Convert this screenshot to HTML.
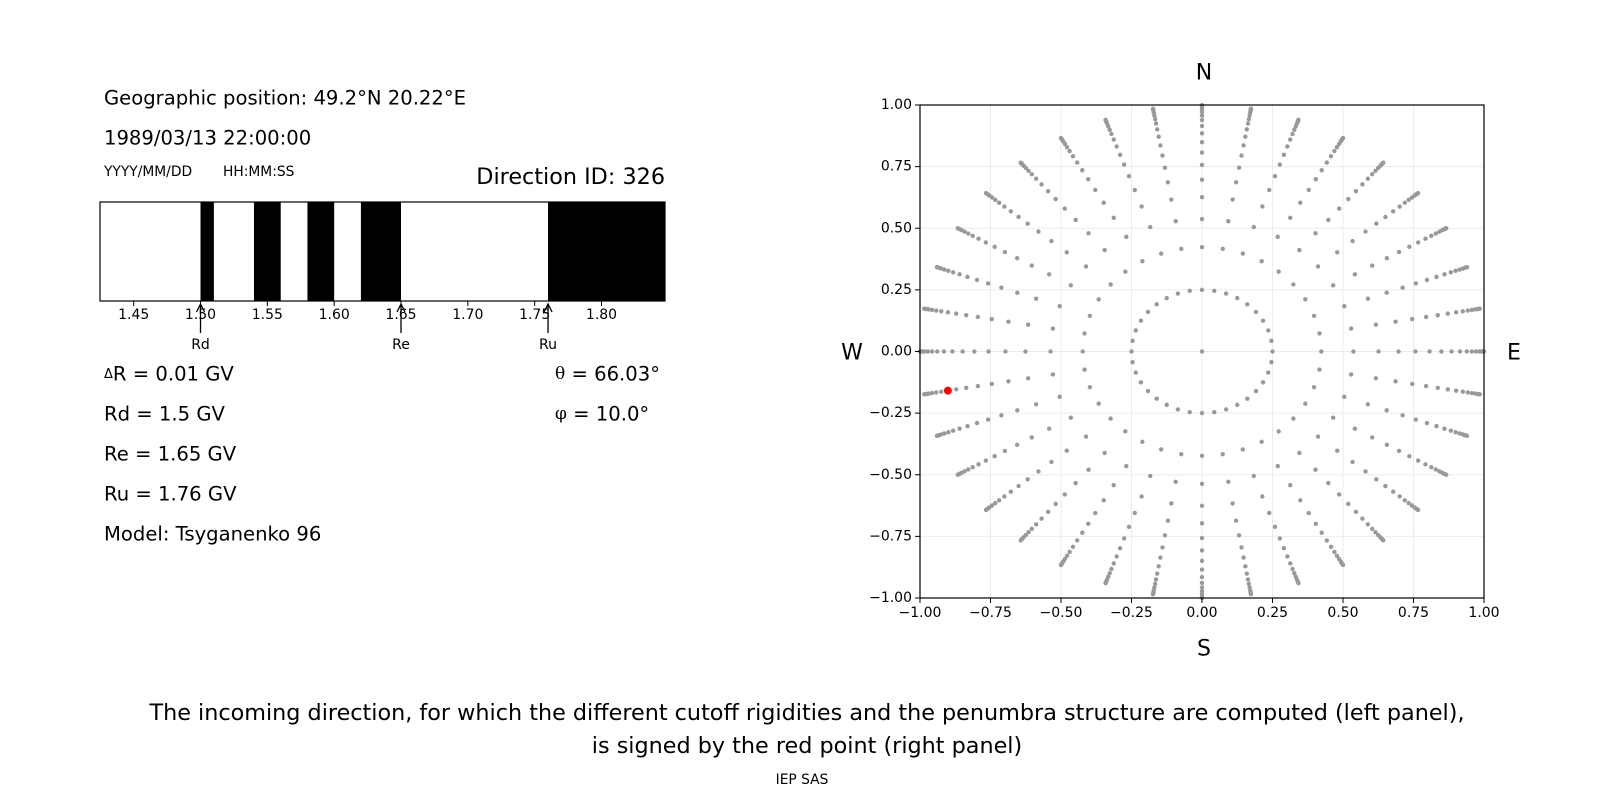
<!DOCTYPE html>
<html><head><meta charset="utf-8"><style>
html,body{margin:0;padding:0;background:#fff;}
svg{display:block;font-family:"DejaVu Sans","Liberation Sans",sans-serif;}
</style></head><body>
<svg id="fig" width="1600" height="800" viewBox="0 0 1600 800">
<g id="left">
<text x="104" y="98" font-size="19.6" dominant-baseline="central">Geographic position: 49.2°N 20.22°E</text>
<text x="104" y="138" font-size="19.6" dominant-baseline="central">1989/03/13 22:00:00</text>
<text x="104" y="172" font-size="13.8" dominant-baseline="central">YYYY/MM/DD</text>
<text x="223" y="172" font-size="13.8" dominant-baseline="central">HH:MM:SS</text>
<text x="665" y="177" font-size="22.3" text-anchor="end" dominant-baseline="central">Direction ID: 326</text>
<g id="bands"></g>
<g id="bticks"></g>
<text x="104" y="374" font-size="19.6" dominant-baseline="central"><tspan font-size="13">Δ</tspan>R = 0.01 GV</text>
<text x="104" y="414" font-size="19.6" dominant-baseline="central">Rd = 1.5 GV</text>
<text x="104" y="454" font-size="19.6" dominant-baseline="central">Re = 1.65 GV</text>
<text x="104" y="494" font-size="19.6" dominant-baseline="central">Ru = 1.76 GV</text>
<text x="104" y="534" font-size="19.6" dominant-baseline="central">Model: Tsyganenko 96</text>
<text x="555" y="374" font-size="19.6" dominant-baseline="central"><tspan font-family="'DejaVu Serif',serif" font-size="17">θ</tspan> = 66.03°</text>
<text x="555" y="414" font-size="19.6" dominant-baseline="central"><tspan font-family="'DejaVu Serif',serif" font-size="17">φ</tspan> = 10.0°</text>
</g>
<g id="right">
<g id="grid"></g>
<g id="pts"></g>
<rect x="920" y="105" width="564" height="493" fill="none" stroke="#000" stroke-width="1.2"/>
<g id="aticks"></g>
<text x="1204" y="73" font-size="22" text-anchor="middle" dominant-baseline="central">N</text>
<text x="1204" y="649" font-size="22" text-anchor="middle" dominant-baseline="central">S</text>
<text x="852" y="353" font-size="22" text-anchor="middle" dominant-baseline="central">W</text>
<text x="1514" y="353" font-size="22" text-anchor="middle" dominant-baseline="central">E</text>
</g>
<text x="807" y="713" font-size="22.3" text-anchor="middle" dominant-baseline="central">The incoming direction, for which the different cutoff rigidities and the penumbra structure are computed (left panel),</text>
<text x="807" y="746" font-size="22.3" text-anchor="middle" dominant-baseline="central">is signed by the red point (right panel)</text>
<text x="802" y="780" font-size="13.8" text-anchor="middle" dominant-baseline="central">IEP SAS</text>
</svg>
<script>
// ---- penumbra data ----
const bandStarts = [1.50, 1.54, 1.58, 1.62, 1.76];
const bandEnds = [1.51, 1.56, 1.60, 1.65, 1.8475];
const rigidityTicks = [1.45, 1.50, 1.55, 1.60, 1.65, 1.70, 1.75, 1.80];
const cutoffNames = ["Rd", "Re", "Ru"];
const cutoffValues = [1.50, 1.65, 1.76];
// ---- sky map data ----
const rayAzimuths = [0,10,20,30,40,50,60,70,80,90,100,110,120,130,140,150,160,170,180,190,200,210,220,230,240,250,260,270,280,290,300,310,320,330,340,350];
const rayRadii = [0.423,0.537,0.626,0.697,0.757,0.807,0.849,0.885,0.915,0.939,0.957,0.972,0.984,0.992,0.997,1.0];
const innerRingRadius = [0.25];
const selectedAzimuth = [190];
const selectedRadius = [0.915];
const axisTicks = [-1.00,-0.75,-0.50,-0.25,0.00,0.25,0.50,0.75,1.00];

const NS = "http://www.w3.org/2000/svg";
function mk(tag, attrs, parent){const e=document.createElementNS(NS,tag);for(const k in attrs)e.setAttribute(k,attrs[k]);parent.appendChild(e);return e;}

const bx0=100, bx1=665, by0=202, by1=301, rMin=1.4248, rMax=1.8475;
const bX = v => bx0 + (v - rMin) / (rMax - rMin) * (bx1 - bx0);
const bands = document.getElementById('bands');
const frame = mk('rect',{x:bx0,y:by0,width:bx1-bx0,height:by1-by0,fill:'#fff'},bands);


bandStarts.forEach((s,i)=>{
  const r = mk('rect',{x:bX(s),y:by0,width:bX(Math.min(bandEnds[i],rMax))-bX(s),height:by1-by0,fill:'#000'},bands);
  
  
});
const fb = mk('rect',{x:bx0,y:by0,width:bx1-bx0,height:by1-by0,fill:'none',stroke:'#000','stroke-width':1.2},bands);


const bt = document.getElementById('bticks');
rigidityTicks.forEach(v=>{
  const l = mk('line',{x1:bX(v),x2:bX(v),y1:by1,y2:by1+5,stroke:'#000','stroke-width':1},bt);
  
  
  const t = mk('text',{x:bX(v),y:315,'font-size':14,'text-anchor':'middle','dominant-baseline':'central'},bt);
  t.textContent=v.toFixed(2);
  
  
});
cutoffValues.forEach((v,i)=>{
  const x=bX(v);
  const a = mk('path',{d:`M${x},333 L${x},305 M${x-4},312 L${x},304 L${x+4},312`,stroke:'#000','stroke-width':1.3,fill:'none'},bt);
  
  
  const t = mk('text',{x:x,y:345,'font-size':14,'text-anchor':'middle','dominant-baseline':'central'},bt);
  t.textContent=cutoffNames[i];
  
  
});

const px0=920, px1=1484, py0=105, py1=598;
const sX = v => px0 + (v + 1) / 2 * (px1 - px0);
const sY = v => py1 - (v + 1) / 2 * (py1 - py0);
const grid = document.getElementById('grid');
const at = document.getElementById('aticks');
axisTicks.forEach(v=>{
  const gx = mk('line',{x1:sX(v),x2:sX(v),y1:py0,y2:py1,stroke:'#ebebeb','stroke-width':1},grid);
  
  
  const gy = mk('line',{x1:px0,x2:px1,y1:sY(v),y2:sY(v),stroke:'#ebebeb','stroke-width':1},grid);
  
  
  const tx = mk('line',{x1:sX(v),x2:sX(v),y1:py1,y2:py1+5,stroke:'#000'},at);
  
  
  const ty = mk('line',{x1:px0-5,x2:px0,y1:sY(v),y2:sY(v),stroke:'#000'},at);
  
  
  const lbl = v.toFixed(2).replace('-','\u2212');
  const lx = mk('text',{x:sX(v),y:613,'font-size':14,'text-anchor':'middle','dominant-baseline':'central'},at);
  lx.textContent=lbl;
  
  
  const ly = mk('text',{x:px0-8,y:sY(v),'font-size':14,'text-anchor':'end','dominant-baseline':'central'},at);
  ly.textContent=lbl;
  
  
});
const pts = document.getElementById('pts');
function pt(az, r, col, rad, name){
  const a = az*Math.PI/180;
  const c = mk('circle',{cx:sX(r*Math.cos(a)),cy:sY(r*Math.sin(a)),r:rad,fill:col},pts);
  
  
}
pt(0,0,'#999',2.2,'direction-point');
rayAzimuths.forEach(az=>{
  innerRingRadius.forEach(r=>pt(az,r,'#999',2.2,'direction-point'));
  rayRadii.forEach(r=>pt(az,r,'#999',2.2,'direction-point'));
});
selectedAzimuth.forEach((az,i)=>pt(az,selectedRadius[i],'#ff0000',4,'selected-direction-point'));
</script>
</body></html>
